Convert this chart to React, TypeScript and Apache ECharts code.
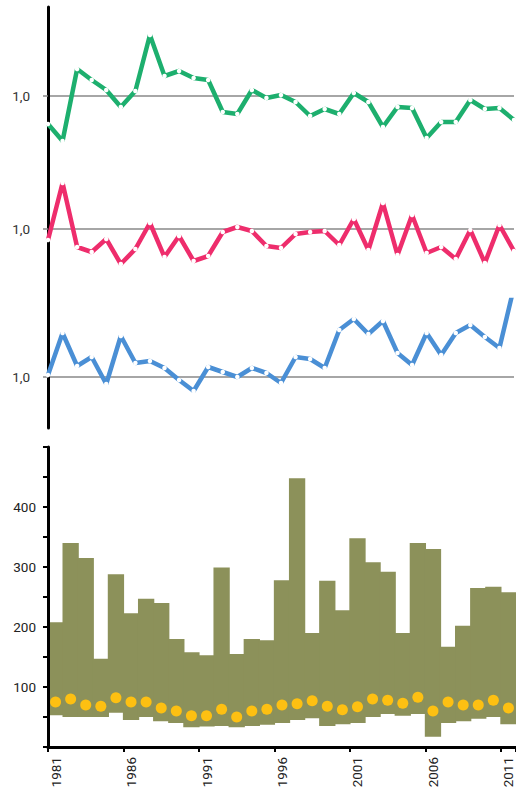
import React, { useEffect, useRef } from "react";
import * as echarts from "echarts";

// Top panel: index series (33 points)
const topYears = [
  "1981","1982","1983","1984","1985","1986","1987","1988","1989","1990",
  "1991","1992","1993","1994","1995","1996","1997","1998","1999","2000",
  "2001","2002","2003","2004","2005","2006","2007","2008","2009","2010",
  "2011","2012","2013",
];
const greenValues = [
  0.72, 0.55, 1.27, 1.16, 1.06, 0.89, 1.05, 1.61, 1.2, 1.25,
  1.18, 1.16, 0.84, 0.82, 1.06, 0.98, 1.01, 0.94, 0.8, 0.87,
  0.82, 1.03, 0.94, 0.69, 0.89, 0.88, 0.58, 0.74, 0.74, 0.96,
  0.87, 0.88, 0.76,
];
const pinkValues = [
  0.89, 1.46, 0.82, 0.77, 0.9, 0.65, 0.8, 1.06, 0.72, 0.93,
  0.68, 0.73, 0.97, 1.02, 0.98, 0.83, 0.81, 0.95, 0.97, 0.98,
  0.84, 1.1, 0.79, 1.26, 0.74, 1.14, 0.76, 0.82, 0.7, 0.99,
  0.66, 1.04, 0.78,
];
const blueValues = [
  1.02, 1.44, 1.11, 1.2, 0.93, 1.41, 1.14, 1.16, 1.09, 0.97,
  0.86, 1.1, 1.05, 1.0, 1.09, 1.04, 0.94, 1.2, 1.18, 1.09,
  1.47, 1.58, 1.43, 1.56, 1.24, 1.12, 1.44, 1.22, 1.44, 1.52,
  1.4, 1.29, 1.9,
];

// Bottom panel: ranges and means (1981-2011)
const years = [
  "1981","1982","1983","1984","1985","1986","1987","1988","1989","1990",
  "1991","1992","1993","1994","1995","1996","1997","1998","1999","2000",
  "2001","2002","2003","2004","2005","2006","2007","2008","2009","2010",
  "2011",
];
const upperValues = [
  208, 340, 315, 147, 288, 223, 247, 240, 180, 158,
  153, 299, 155, 180, 178, 278, 448, 190, 277, 228,
  348, 308, 292, 190, 340, 330, 167, 202, 265, 267,
  258,
];
const lowerValues = [
  53, 50, 50, 50, 57, 45, 50, 43, 40, 33,
  34, 35, 33, 35, 37, 40, 45, 48, 35, 38,
  40, 50, 55, 52, 55, 17, 40, 43, 47, 50,
  38,
];
const meanValues = [
  75, 80, 70, 68, 82, 75, 75, 65, 60, 52,
  52, 63, 50, 60, 63, 70, 72, 77, 68, 62,
  67, 80, 78, 73, 83, 60, 75, 70, 70, 78,
  65,
];

const FONT = "Roboto, 'Noto Sans', sans-serif";
const OLIVE = "#8c915a";

export default function App() {
  const ref = useRef<HTMLDivElement>(null);

  useEffect(() => {
    if (!ref.current) return;
    const chart = echarts.init(ref.current, undefined, { renderer: "svg" });

    const topGrids = [
      { top: 7, height: 153, min: 0.36, max: 1.89, data: greenValues, color: "#1daf6e" },
      { top: 160, height: 140, min: 0.29, max: 1.69, data: pinkValues, color: "#ee2d6c" },
      { top: 300, height: 128, min: 0.49, max: 1.77, data: blueValues, color: "#4a8fd5" },
    ];

    const grid: any[] = topGrids.map((g) => ({ left: 48, right: 2, top: g.top, height: g.height }));
    grid.push({ left: 48, right: -1, top: 447, height: 300 });

    const xAxis: any[] = topGrids.map((_, i) => ({
      type: "category",
      gridIndex: i,
      data: topYears,
      boundaryGap: false,
      show: false,
    }));
    xAxis.push({
      type: "category",
      gridIndex: 3,
      data: years,
      z: 10,
      axisLine: { lineStyle: { color: "#000", width: 3 } },
      axisTick: { show: true, length: 5, lineStyle: { color: "#000", width: 2 } },
      axisLabel: {
        interval: 4,
        rotate: 90,
        margin: 10,
        color: "#222",
        fontSize: 13.5,
        fontFamily: FONT,
      },
    });

    const yAxis: any[] = topGrids.map((g, i) => ({
      type: "value",
      gridIndex: i,
      min: g.min,
      max: g.max,
      axisLine: { show: true, lineStyle: { color: "#000", width: 3 } },
      axisTick: {
        show: true,
        customValues: [1],
        length: 5,
        lineStyle: { color: "#888", width: 1.5 },
      },
      axisLabel: {
        customValues: [1],
        formatter: (v: number) => v.toFixed(1).replace(".", ","),
        color: "#333",
        fontSize: 13.5,
        fontFamily: FONT,
        margin: 18,
      },
      splitLine: { show: true, lineStyle: { color: "#888", width: 1.5 } },
    }));
    yAxis.push({
      type: "value",
      gridIndex: 3,
      min: 0,
      max: 500,
      interval: 50,
      z: 10,
      axisLine: { show: true, lineStyle: { color: "#000", width: 3 } },
      axisTick: { show: true, length: 5, lineStyle: { color: "#000", width: 2 } },
      axisLabel: {
        formatter: (v: number) => (v % 100 === 0 && v > 0 && v < 500 ? String(v) : ""),
        color: "#222",
        fontSize: 13.5,
        fontFamily: FONT,
        margin: 12,
      },
      splitLine: { show: false },
    });

    const series: any[] = topGrids.map((g, i) => ({
      type: "line",
      xAxisIndex: i,
      yAxisIndex: i,
      data: g.data,
      symbol: "circle",
      symbolSize: 4.5,
      showSymbol: true,
      itemStyle: { color: "#fff", borderWidth: 0 },
      lineStyle: { color: g.color, width: 4.5 },
      z: 3,
    }));

    series.push({
      type: "bar",
      xAxisIndex: 3,
      yAxisIndex: 3,
      stack: "range",
      data: lowerValues,
      itemStyle: { color: "rgba(0,0,0,0)" },
      barWidth: "108%",
      silent: true,
    });
    series.push({
      type: "bar",
      xAxisIndex: 3,
      yAxisIndex: 3,
      stack: "range",
      data: upperValues.map((u, i) => u - lowerValues[i]),
      itemStyle: { color: OLIVE },
      barWidth: "108%",
    });
    series.push({
      type: "scatter",
      xAxisIndex: 3,
      yAxisIndex: 3,
      data: meanValues,
      symbolSize: 11,
      itemStyle: { color: "#fdc012", opacity: 1 },
      z: 4,
    });

    chart.setOption({
      animation: false,
      backgroundColor: "#fff",
      grid,
      xAxis,
      yAxis,
      series,
    });

    return () => chart.dispose();
  }, []);

  return (
    <div
      ref={ref}
      style={{ position: "fixed", left: 0, top: 0, width: 516, height: 791 }}
    />
  );
}
